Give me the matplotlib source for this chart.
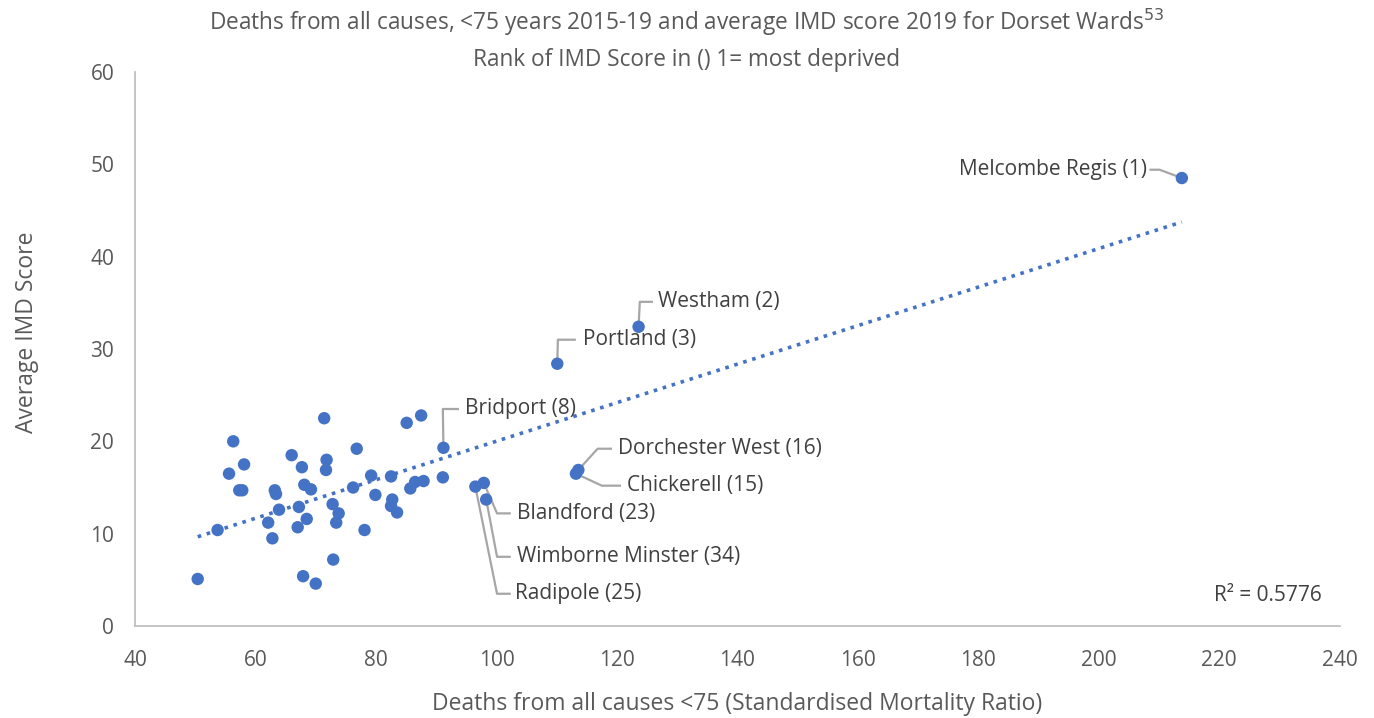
import numpy as np
import matplotlib
matplotlib.use("Agg")
from matplotlib import pyplot as plt

plt.rcParams['font.family'] = ['Open Sans', 'DejaVu Sans']

# SMR (deaths <75) и средний IMD score по округам
smr = [50.4, 53.7, 55.6, 56.3, 57.3, 57.8, 58.1, 62.1, 62.8, 63.2, 63.4, 63.9,
       66.0, 67.0, 67.2, 67.7, 67.9, 68.1, 68.5, 69.2, 70.0, 71.4, 71.7, 71.8,
       72.8, 72.9, 73.4, 73.8, 76.2, 76.8, 78.1, 79.2, 79.9, 82.5, 82.5, 82.7,
       83.5, 85.1, 85.7, 86.5, 87.5, 87.9, 91.1, 91.2, 96.5, 97.9, 98.3, 110.1,
       113.2, 113.6, 123.6, 213.8]
imd = [5.1, 10.4, 16.5, 20.0, 14.7, 14.7, 17.5, 11.2, 9.5, 14.7, 14.3, 12.6,
       18.5, 10.7, 12.9, 17.2, 5.4, 15.3, 11.6, 14.8, 4.6, 22.5, 16.9, 18.0,
       13.2, 7.2, 11.2, 12.2, 15.0, 19.2, 10.4, 16.3, 14.2, 16.2, 13.0, 13.7,
       12.3, 22.0, 14.9, 15.6, 22.8, 15.7, 16.1, 19.3, 15.1, 15.5, 13.7, 28.4,
       16.5, 16.9, 32.4, 48.5]

# подписанные точки: (название, x точки, y точки)
named = [
    ("Melcombe Regis (1)", 213.8, 48.5),
    ("Westham (2)", 123.6, 32.4),
    ("Portland (3)", 110.1, 28.4),
    ("Bridport (8)", 91.2, 19.3),
    ("Dorchester West (16)", 113.6, 16.9),
    ("Chickerell (15)", 113.2, 16.5),
    ("Blandford (23)", 97.9, 15.5),
    ("Wimborne Minster (34)", 98.3, 13.7),
    ("Radipole (25)", 96.5, 15.1),
]
# положение подписи: (локоть x, конец линии x, x текста, y текста, выравнивание)
label_pos = [
    (210.1, 208.6, 208.0, 49.4, 'right'),
    (123.8, 125.8, 126.8, 35.1, 'left'),
    (110.2, 113.0, 114.4, 31.0, 'left'),
    (91.1, 93.6, 94.8, 23.5, 'left'),
    (116.8, 119.0, 120.2, 19.2, 'left'),
    (117.5, 120.5, 121.7, 15.2, 'left'),
    (100.1, 102.2, 103.4, 12.2, 'left'),
    (100.1, 102.2, 103.4, 7.5, 'left'),
    (100.1, 102.2, 103.1, 3.5, 'left'),
]

blue = '#4472C4'
grey = '#595959'

fig = plt.figure(figsize=(13.74, 7.18), dpi=100)
ax = fig.add_axes([0.0983, 0.128, 0.8767, 0.772])

ax.scatter(smr, imd, s=80, color=blue, zorder=3, edgecolors='none')

# линейный тренд
k, b = np.polyfit(smr, imd, 1)
xs = np.array([min(smr), max(smr)])
ax.plot(xs, k * xs + b, linestyle=(0, (1, 1.6)), color=blue, lw=2.6, zorder=2)

for (name, px, py), (ex, tx_end, tx, ty, ha) in zip(named, label_pos):
    ax.plot([px, ex, tx_end], [py, ty, ty], color='#a6a6a6', lw=1.6, zorder=1)
    ax.text(tx, ty, name, ha=ha, va='center', fontsize=15, color='#404040')

ax.text(237.0, 3.3, "R² = 0.5776", ha='right', va='center', fontsize=15, color='#404040')

ax.set_xlim(40, 240)
ax.set_ylim(0, 60)
ax.set_xticks(range(40, 241, 20))
ax.set_yticks(range(0, 61, 10))
for s in ['top', 'right']:
    ax.spines[s].set_visible(False)
ax.spines['bottom'].set_color('#bfbfbf')
ax.spines['left'].set_color('#bfbfbf')
ax.spines['bottom'].set_linewidth(1.3)
ax.spines['left'].set_linewidth(1.3)
ax.tick_params(length=0, labelsize=15, labelcolor=grey)
ax.tick_params(axis='x', pad=17)
ax.tick_params(axis='y', pad=15)

ax.set_xlabel("Deaths from all causes <75 (Standardised Mortality Ratio)",
              fontsize=16.5, color=grey)
ax.set_ylabel("Average IMD Score", fontsize=16.5, color=grey)
ax.xaxis.set_label_coords(0.5, -0.118)
ax.yaxis.set_label_coords(-0.08, 0.53)

fig.text(0.5, 0.969, "Deaths from all causes, <75 years 2015-19 and average IMD score 2019 for Dorset Wards$^{53}$",
         ha='center', va='center', fontsize=16.3, color=grey)
fig.text(0.5, 0.917, "Rank of IMD Score in () 1= most deprived",
         ha='center', va='center', fontsize=16.3, color=grey)

fig.savefig("out.png", dpi=100)
